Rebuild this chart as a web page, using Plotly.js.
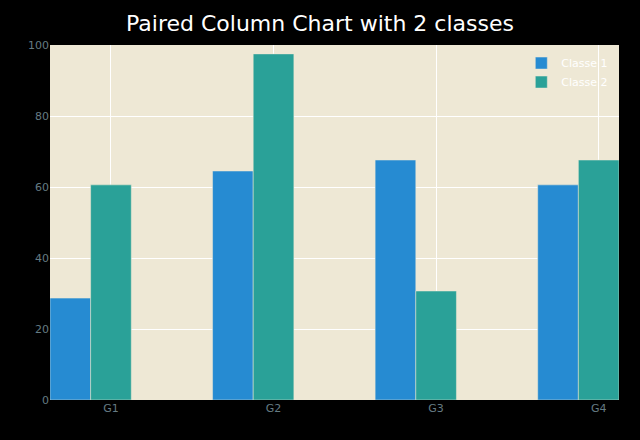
<html>
<head>
<script src="https://cdn.plot.ly/plotly-3.0.1.min.js"></script>
</head>
<body style="margin:0;background:#000">
<div id="chart" style="width:640px;height:440px"></div>
<script>
var groups = ["G1", "G2", "G3", "G4"];
var classe1 = [28.7, 64.5, 67.6, 60.6];
var classe2 = [60.6, 97.5, 30.7, 67.6];
var barWidth = 0.25;

var pos1 = groups.map(function(g, i) { return i - barWidth; });
var pos2 = groups.map(function(g, i) { return i; });

var trace1 = {
    x: pos1,
    y: classe1,
    type: 'bar',
    width: barWidth,
    name: 'Classe 1',
    marker: {color: '#268BD2', line: {color: '#EEE8D5', width: 0.5}}
};

var trace2 = {
    x: pos2,
    y: classe2,
    type: 'bar',
    width: barWidth,
    name: 'Classe 2',
    marker: {color: '#2AA198', line: {color: '#EEE8D5', width: 0.5}}
};

var layout = {
    width: 640,
    height: 440,
    paper_bgcolor: '#000000',
    plot_bgcolor: '#EEE8D5',
    margin: {l: 50, r: 21, t: 45, b: 40},
    title: {text: 'Paired Column Chart with 2 classes', font: {color: '#ffffff', size: 22, family: 'DejaVu Sans'}, x: 0.5, y: 0.965},
    font: {family: 'DejaVu Sans', size: 11, color: '#657B83'},
    showlegend: true,
    legend: {x: 0.99, xanchor: 'right', y: 0.99, yanchor: 'top', bgcolor: 'rgba(0,0,0,0)', font: {color: '#ffffff', size: 11}},
    xaxis: {
        range: [-0.375, 3.125],
        tickvals: pos2,
        ticktext: groups,
        showgrid: true,
        gridcolor: '#ffffff',
        zeroline: false,
        ticks: ''
    },
    yaxis: {
        range: [0, 100],
        dtick: 20,
        showgrid: true,
        gridcolor: '#ffffff',
        zeroline: false,
        ticks: ''
    }
};

Plotly.newPlot('chart', [trace1, trace2], layout, {displayModeBar: false});
</script>
</body>
</html>
